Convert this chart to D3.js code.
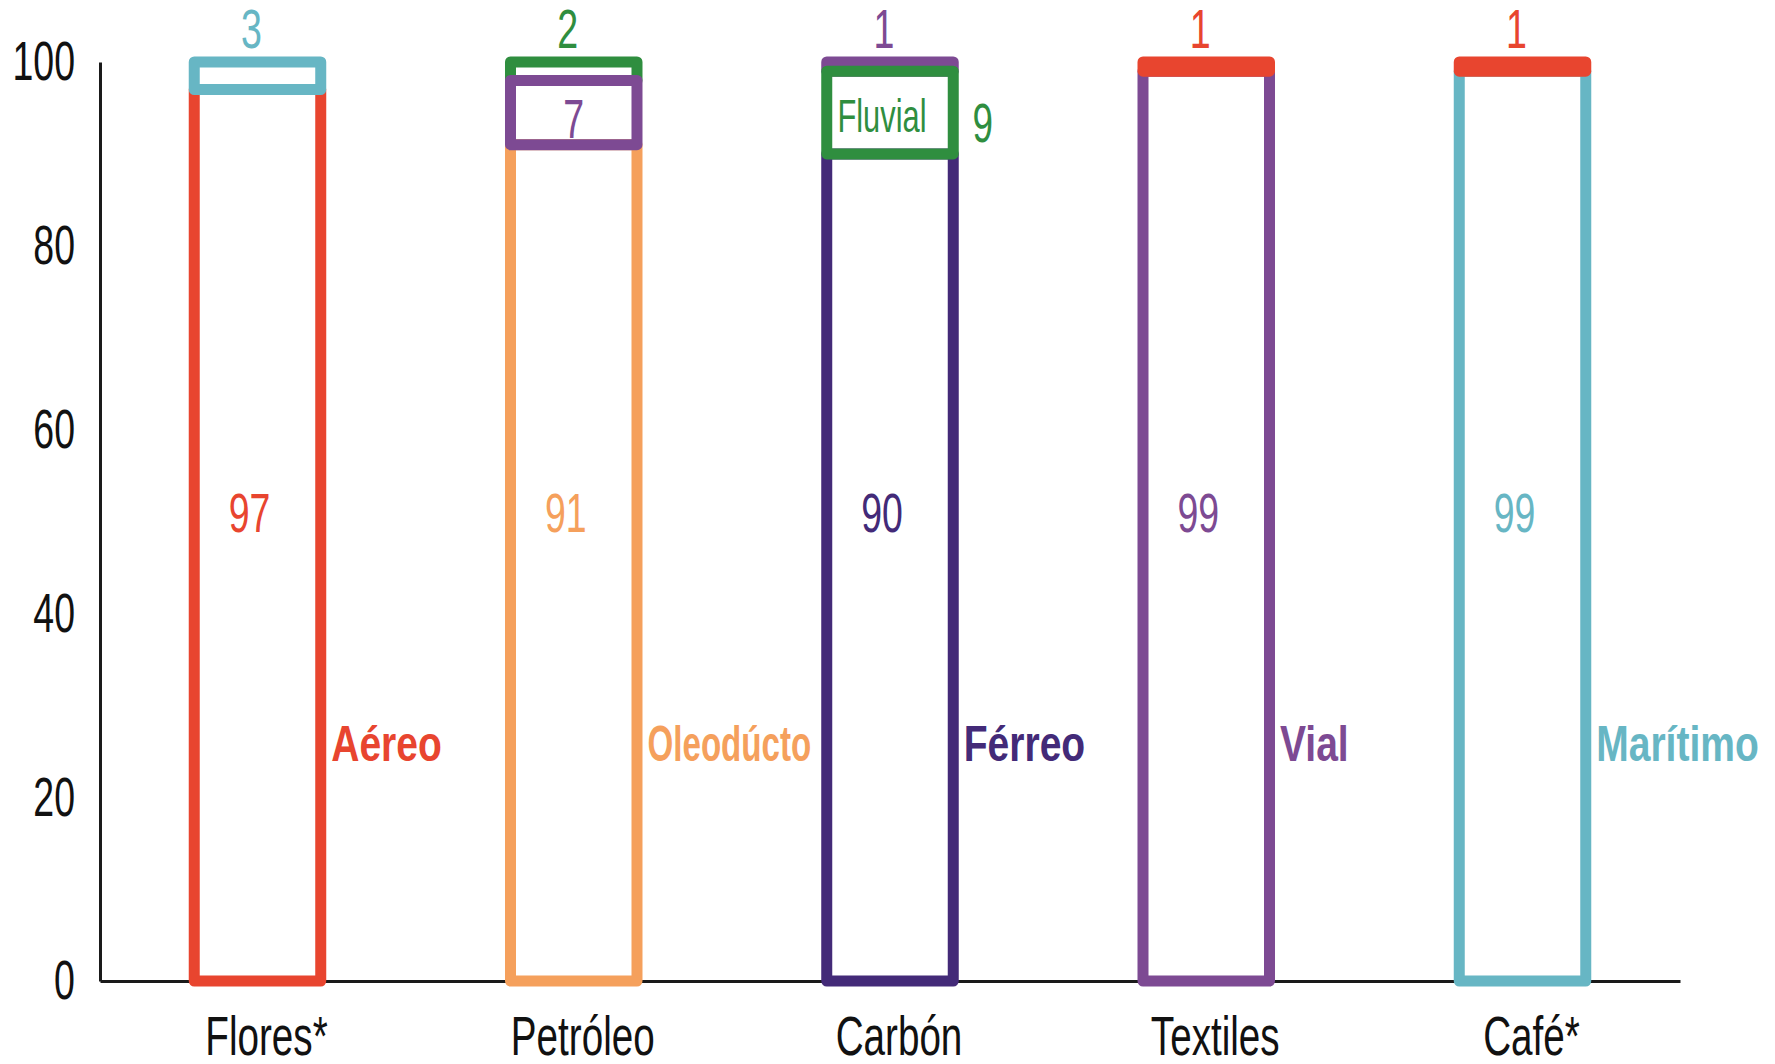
<!DOCTYPE html>
<html>
<head>
<meta charset="utf-8">
<script src="https://cdn.jsdelivr.net/npm/d3@7"></script>
<style>
  html, body { margin: 0; padding: 0; background: #ffffff; }
  svg { display: block; }
  text { font-family: "Liberation Sans", Arial, Helvetica, sans-serif; }
</style>
</head>
<body>
<script>
// ---------------- DATA ----------------
const categories = ["Flores*", "Petróleo", "Carbón", "Textiles", "Café*"];
const modes = ["Aéreo", "Oleodúcto", "Férreo", "Vial", "Marítimo", "Fluvial"];
// share (%) of each transport mode, per category (same order as categories)
const aereo     = [97, 0, 0, 1, 1];
const oleoducto = [0, 91, 0, 0, 0];
const ferreo    = [0, 0, 90, 0, 0];
const vial      = [0, 7, 1, 99, 0];
const maritimo  = [3, 0, 0, 0, 99];
const fluvial   = [0, 2, 9, 0, 0];
// stacking order (bottom -> top) per category
const stackOrder = [
  ["Aéreo", "Marítimo"],
  ["Oleodúcto", "Vial", "Fluvial"],
  ["Férreo", "Fluvial", "Vial"],
  ["Vial", "Aéreo"],
  ["Marítimo", "Aéreo"]
];
const yTicks = [0, 20, 40, 60, 80, 100];
const modeColors = ["#E8452F", "#F5A05C", "#432A78", "#7D4A93", "#67B6C4", "#2F8E3F"];

// ---------------- SETUP ----------------
const W = 1775, H = 1064;
const seriesValues = {
  "Aéreo": aereo, "Oleodúcto": oleoducto, "Férreo": ferreo,
  "Vial": vial, "Marítimo": maritimo, "Fluvial": fluvial
};
const color = d3.scaleOrdinal().domain(modes).range(modeColors);

const svg = d3.select("body").append("svg").attr("width", W).attr("height", H);

const x = d3.scaleBand().domain(categories).range([100, 1680])
  .paddingInner(0.6).paddingOuter(0.298);
const y = d3.scaleLinear().domain([0, 100]).range([981, 62]);

const SW = 11;           // outline width of the segments
const FONT = 56;         // regular label size
const SX = 0.67;         // horizontal condensing of the regular font

// condense a text horizontally (no transforms) using textLength
function condense(sel, sx, maxLen) {
  sel.each(function () {
    let len = this.getComputedTextLength() * sx;
    if (maxLen && len > maxLen) len = maxLen;
    d3.select(this).attr("textLength", len.toFixed(1)).attr("lengthAdjust", "spacingAndGlyphs");
  });
}

function label(parent, px, py, txt, opt) {
  const o = Object.assign({ size: FONT, sx: SX, anchor: "middle", weight: "normal", fill: "#111", maxLen: null }, opt || {});
  const t = parent.append("text")
    .attr("x", px).attr("y", py)
    .attr("text-anchor", o.anchor)
    .attr("dy", "0.35em")
    .attr("font-size", o.size)
    .attr("font-weight", o.weight)
    .attr("fill", o.fill)
    .text(txt);
  condense(t, o.sx, o.maxLen);
  return t;
}

// main modes (largest share in a category)
const mainModes = categories.map((c, i) => stackOrder[i][0]);

// ---------------- AXES ----------------
const yAxis = d3.axisLeft(y).tickValues(yTicks).tickSize(0).tickSizeOuter(0).tickPadding(25);
const gy = svg.append("g").attr("transform", "translate(100,0)").call(yAxis);
gy.attr("font-family", null).attr("font-size", null);
gy.select(".domain").attr("stroke", "#1a1a1a").attr("stroke-width", 3);
gy.selectAll(".tick text")
  .attr("font-size", FONT)
  .attr("fill", "#111")
  .call(condense, SX);

const xAxis = d3.axisBottom(x).tickSize(0).tickSizeOuter(0).tickPadding(0);
const gx = svg.append("g").attr("transform", `translate(0,${y(0)})`).call(xAxis);
gx.attr("font-family", null).attr("font-size", null);
gx.select(".domain").attr("stroke", "#1a1a1a").attr("stroke-width", 3);
gx.selectAll(".tick text")
  .attr("font-size", FONT)
  .attr("fill", "#111")
  .attr("dy", 0)
  .attr("y", 74)
  .attr("x", 9)
  .call(condense, 0.69);

// ---------------- BARS ----------------
const bars = svg.append("g");
categories.forEach((cat, i) => {
  const order = stackOrder[i];
  let acc = 0;
  const segs = order.map(m => {
    const v = seriesValues[m][i];
    const s = { mode: m, value: v, y0: acc, y1: acc + v };
    acc += v;
    return s;
  });
  // draw: main first, then the others from top to bottom
  const drawOrder = [segs[0]].concat(segs.slice(1).reverse());
  const g = bars.append("g");
  g.selectAll("rect").data(drawOrder).join("rect")
    .attr("x", x(cat))
    .attr("width", x.bandwidth())
    .attr("y", d => y(d.y1))
    .attr("height", d => y(d.y0) - y(d.y1))
    .attr("fill", "none")
    .attr("stroke", d => color(d.mode))
    .attr("stroke-width", SW)
    .attr("stroke-linejoin", "round");

  const cx = x(cat) + x.bandwidth() / 2;
  const right = x(cat) + x.bandwidth() + SW / 2;
  const next = categories[i + 1];
  const room = next ? (x(next) - SW / 2) - (right + 5) - 10 : null;
  segs.forEach((s, k) => {
    const col = color(s.mode);
    if (k === 0) {
      // main value in the middle of the bar
      label(g, cx - 8, y(51), s.value, { fill: col });
      // mode name to the right of the bar
      label(g, right + 5, y(25.8), s.mode, { fill: col, weight: "bold", size: 50, sx: 0.78, anchor: "start", maxLen: room });
    } else if (k === segs.length - 1) {
      // top segment value above the bar
      label(g, cx - 6, y(s.y1) - 34, s.value, { fill: col });
    } else if (mainModes.indexOf(s.mode) < 0) {
      // mode not named elsewhere: name inside, value to the right
      label(g, cx - 8, y((s.y0 + s.y1) / 2) + 3, s.mode, { fill: col, size: 46 });
      label(g, right + 24, y((s.y0 + s.y1) / 2) + 10, s.value, { fill: col, size: 55 });
    } else {
      label(g, cx, y((s.y0 + s.y1) / 2) + 6, s.value, { fill: col });
    }
  });
});
</script>
</body>
</html>
